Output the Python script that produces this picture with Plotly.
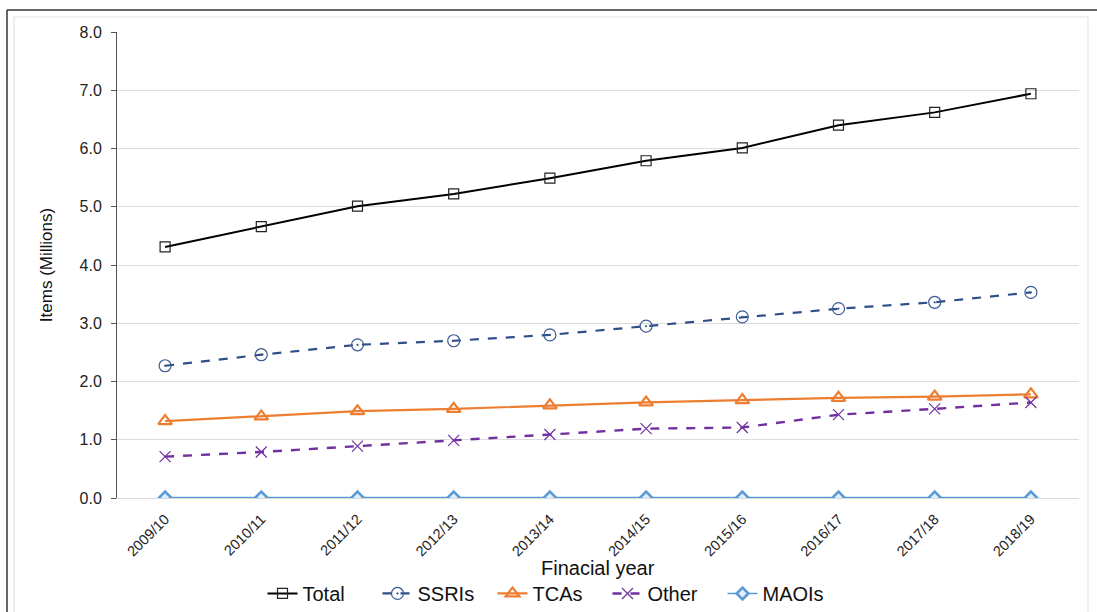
import plotly.graph_objects as go

years = ["2009/10", "2010/11", "2011/12", "2012/13", "2013/14",
         "2014/15", "2015/16", "2016/17", "2017/18", "2018/19"]
total = [4.31, 4.66, 5.01, 5.22, 5.49, 5.79, 6.01, 6.40, 6.62, 6.94]
ssris = [2.27, 2.46, 2.63, 2.70, 2.80, 2.95, 3.11, 3.25, 3.36, 3.53]
tcas = [1.32, 1.40, 1.49, 1.53, 1.59, 1.64, 1.68, 1.72, 1.74, 1.78]
other = [0.71, 0.79, 0.89, 0.99, 1.09, 1.19, 1.21, 1.43, 1.53, 1.64]
maois = [0.01, 0.01, 0.01, 0.01, 0.01, 0.01, 0.01, 0.01, 0.01, 0.01]

FONT = "Liberation Sans, Arial, sans-serif"

fig = go.Figure()
fig.add_trace(go.Scatter(
    x=years, y=total, name="Total", mode="lines+markers",
    line=dict(color="black", width=2),
    marker=dict(symbol="square-open", size=10, color="#222", line=dict(width=1.2))))
fig.add_trace(go.Scatter(
    x=years, y=ssris, name="SSRIs", mode="lines+markers",
    line=dict(color="#2f4e8a", width=2.2, dash="dash"),
    marker=dict(symbol="circle-open-dot", size=12, color="#3b5a94", line=dict(width=1.2))))
fig.add_trace(go.Scatter(
    x=years, y=tcas, name="TCAs", mode="lines+markers",
    line=dict(color="#ed7d31", width=2.2),
    marker=dict(symbol="triangle-up-open", size=12, color="#ed7d31", line=dict(width=2.2))))
fig.add_trace(go.Scatter(
    x=years, y=other, name="Other", mode="lines+markers",
    line=dict(color="#7030a0", width=2.4, dash="dash"),
    marker=dict(symbol="x-thin-open", size=11, color="#7030a0", line=dict(width=1.2))))
fig.add_trace(go.Scatter(
    x=years, y=maois, name="MAOIs", mode="lines+markers",
    line=dict(color="#5b9bd5", width=1.5),
    marker=dict(symbol="diamond", size=9, color="#e4eef8", line=dict(width=2.6, color="#5b9bd5"))))

fig.update_layout(
    width=1097, height=612,
    margin=dict(l=117, r=18, t=32, b=114, autoexpand=False),
    paper_bgcolor="white", plot_bgcolor="white",
    font=dict(family=FONT, size=15, color="#222"),
    showlegend=True,
    legend=dict(orientation="h", x=(550 - 117) / 962, xanchor="center",
                y=-0.163, yanchor="top",
                font=dict(size=20, color="#111"), tracegroupgap=0,
                entrywidth=70, entrywidthmode="pixels",
                bgcolor="rgba(0,0,0,0)"),
    xaxis=dict(
        type="category", range=[-0.5, 9.5], tickangle=-45, automargin=False,
        showgrid=False, showline=True, linecolor="#d9d9d9", linewidth=1,
        ticks="", tickfont=dict(size=14.5, color="#222"), ticklabelstandoff=6,
        zeroline=False),
    yaxis=dict(
        range=[0, 8], dtick=1, tickformat=".1f", automargin=False,
        showgrid=True, gridcolor="#dcdcdc", gridwidth=1,
        showline=True, linecolor="#555", linewidth=1,
        ticks="outside", ticklen=5, tickcolor="#555",
        tickfont=dict(size=16, color="#222"), ticklabelstandoff=6,
        title=dict(text="Items (Millions)", font=dict(size=17, color="#111"), standoff=22),
        zeroline=False),
)

# x-axis title placed just above the legend
fig.add_annotation(text="Finacial year", xref="paper", yref="paper",
                   x=(598 - 117) / 962, y=(498 - 568) / 466, xanchor="center", yanchor="middle",
                   showarrow=False, font=dict(size=20, color="#111"))

# Frame around the chart
fig.add_shape(type="line", xref="paper", yref="paper",
              x0=(7 - 117) / 962, x1=(1097 - 117) / 962,
              y0=(498 - 10) / 466, y1=(498 - 10) / 466,
              line=dict(color="#333", width=1.5))
fig.add_shape(type="line", xref="paper", yref="paper",
              x0=(7 - 117) / 962, x1=(7 - 117) / 962,
              y0=(498 - 10) / 466, y1=(498 - 640) / 466,
              line=dict(color="#333", width=1.5))
fig.add_shape(type="rect", xref="paper", yref="paper",
              x0=(14 - 117) / 962, x1=(1088 - 117) / 962,
              y0=(498 - 17) / 466, y1=(498 - 640) / 466,
              line=dict(color="#e3e3e3", width=1.2))

fig.write_html("out.html")
